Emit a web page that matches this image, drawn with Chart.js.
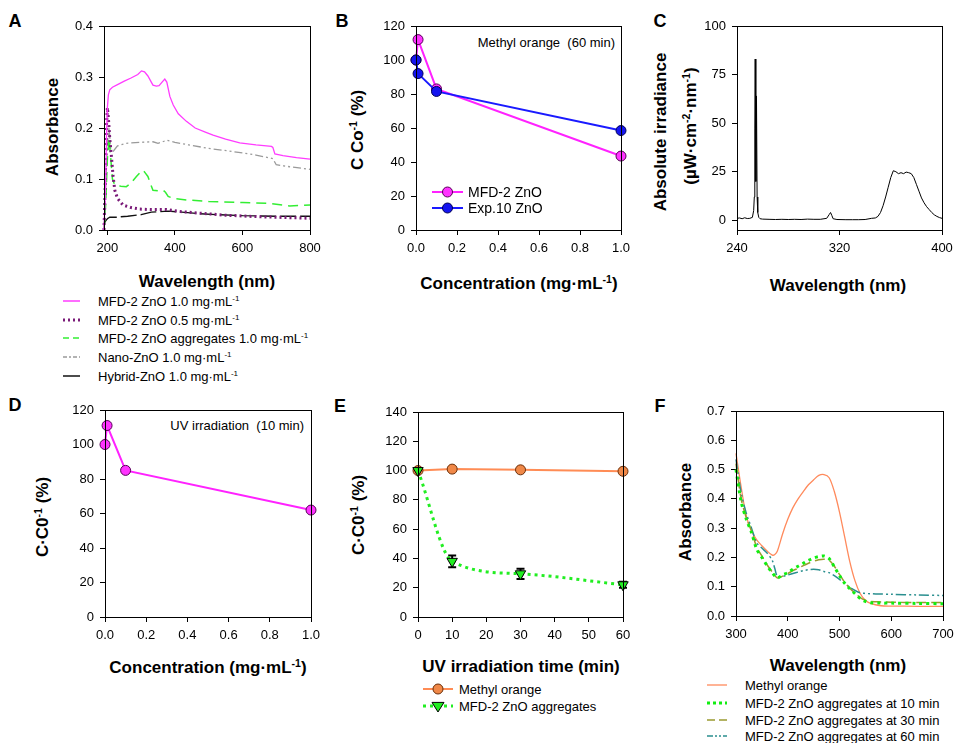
<!DOCTYPE html>
<html>
<head>
<meta charset="utf-8">
<script src="https://cdn.jsdelivr.net/npm/chart.js@4.4.1/dist/chart.umd.min.js"></script>
<style>
html, body { margin: 0; padding: 0; background: #fff; overflow: hidden; }
#fig { position: relative; width: 954px; height: 743px; overflow: hidden; font-family: 'Liberation Sans', Arial, sans-serif; color: #000; }
canvas { position: absolute; }
.t { position: absolute; white-space: nowrap; line-height: 1; }
.lbl { font-weight: bold; font-size: 18px; transform: translate(-50%, -50%); }
.ttl { font-weight: bold; font-size: 17px; transform: translate(-50%, -50%); }
.yt { font-weight: bold; font-size: 17px; transform: translate(-50%, -50%) rotate(-90deg); }
.note { font-size: 13px; transform: translate(-100%, -50%); }
.leg { font-size: 13px; transform: translateY(-50%); }
sup { font-size: 0.62em; vertical-align: 0.55em; line-height: 0; }
</style>
</head>
<body>
<div id="fig">
  <div class="t lbl" style="left:15px;top:21px">A</div>
  <div class="t lbl" style="left:342px;top:21px">B</div>
  <div class="t lbl" style="left:660px;top:21px">C</div>
  <div class="t lbl" style="left:15px;top:405px">D</div>
  <div class="t lbl" style="left:340px;top:406px">E</div>
  <div class="t lbl" style="left:660px;top:406px">F</div>

  <div class="t yt" style="left:52px;top:127px">Absorbance</div>
  <div class="t yt" style="left:357px;top:130px">C Co<sup>-1</sup> (%)</div>
  <div class="t yt" style="left:660px;top:132px">Absolute irradiance</div>
  <div class="t yt" style="left:690px;top:126px">(µW·cm<sup>-2</sup>·nm<sup>-1</sup>)</div>
  <div class="t yt" style="left:42px;top:517px">C·C0<sup>-1</sup> (%)</div>
  <div class="t yt" style="left:358px;top:515px">C·C0<sup>-1</sup> (%)</div>
  <div class="t yt" style="left:685px;top:512px">Absorbance</div>

  <div class="t ttl" style="left:207px;top:281px">Wavelength (nm)</div>
  <div class="t ttl" style="left:519px;top:283px">Concentration (mg·mL<sup>-1</sup>)</div>
  <div class="t ttl" style="left:838px;top:285px">Wavelength (nm)</div>
  <div class="t ttl" style="left:208px;top:667px">Concentration (mg·mL<sup>-1</sup>)</div>
  <div class="t ttl" style="left:521px;top:666px">UV irradiation time (min)</div>
  <div class="t ttl" style="left:838px;top:665px">Wavelength (nm)</div>

  <div class="t note" style="left:615px;top:42px">Methyl orange&nbsp; (60 min)</div>
  <div class="t note" style="left:304px;top:425px">UV irradiation&nbsp; (10 min)</div>
</div>

<script>
// A: absorbance spectra of the ZnO suspensions
const aMfd10Wl  = [190, 195, 198, 200, 203, 207, 215, 230, 250, 270, 290, 301, 310, 320, 330, 335, 345, 353, 362, 370, 376, 385, 395, 410, 434, 460, 490, 513, 550, 592, 640, 686, 690, 696, 720, 760, 800];
const aMfd10Abs = [0.0, 0.1, 0.2, 0.24, 0.265, 0.275, 0.28, 0.285, 0.292, 0.298, 0.305, 0.312, 0.31, 0.302, 0.29, 0.284, 0.282, 0.283, 0.29, 0.296, 0.29, 0.262, 0.245, 0.228, 0.213, 0.2, 0.192, 0.186, 0.178, 0.171, 0.167, 0.164, 0.162, 0.149, 0.146, 0.142, 0.139];
const aMfd05Wl  = [190, 194, 197, 200, 203, 207, 212, 217, 222, 230, 246, 270, 296, 330, 375, 420, 474, 550, 650, 800];
const aMfd05Abs = [0.0, 0.1, 0.2, 0.24, 0.22, 0.18, 0.144, 0.105, 0.078, 0.062, 0.049, 0.044, 0.041, 0.04, 0.04, 0.036, 0.033, 0.029, 0.026, 0.023];
const aAggWl    = [190, 195, 200, 205, 210, 215, 222, 240, 256, 270, 286, 300, 306, 312, 320, 328, 335, 350, 365, 372, 380, 395, 434, 500, 600, 680, 740, 800];
const aAggAbs   = [0.0, 0.05, 0.14, 0.18, 0.14, 0.1, 0.088, 0.086, 0.085, 0.092, 0.105, 0.115, 0.117, 0.112, 0.105, 0.09, 0.078, 0.077, 0.078, 0.074, 0.066, 0.062, 0.059, 0.056, 0.054, 0.052, 0.047, 0.049];
const aNanoWl   = [190, 195, 200, 205, 210, 218, 230, 256, 300, 335, 350, 360, 375, 400, 440, 500, 560, 640, 690, 700, 740, 800];
const aNanoAbs  = [0.0, 0.08, 0.17, 0.2, 0.16, 0.155, 0.165, 0.17, 0.172, 0.173, 0.17, 0.172, 0.176, 0.172, 0.167, 0.16, 0.155, 0.147, 0.14, 0.128, 0.124, 0.119];
const aHybWl    = [190, 195, 200, 207, 230, 240, 260, 300, 330, 380, 420, 470, 530, 600, 700, 800];
const aHybAbs   = [0.012, 0.018, 0.022, 0.025, 0.025, 0.026, 0.027, 0.03, 0.035, 0.037, 0.035, 0.032, 0.03, 0.028, 0.027, 0.027];
const aXTicks = [200, 400, 600, 800];
const aYTicks = [0, 0.1, 0.2, 0.3, 0.4];

// B: methyl orange after 60 min
const bConc   = [0, 0.01, 0.1, 1.0];
const bMfd    = [100, 112, 83, 43.5];
const bExp10  = [100, 92, 81.5, 58.5];
const concTicks = [0, 0.2, 0.4, 0.6, 0.8, 1.0];
const pctTicks120 = [0, 20, 40, 60, 80, 100, 120];

// C: lamp spectrum
const cWl  = [240, 242, 244, 246, 248, 250, 252, 253, 253.5, 253.9, 254.2, 254.7, 255.2, 255.7, 256.2, 257, 258, 260, 265, 270, 275, 280, 285, 290, 295, 300, 305, 310, 312, 313, 314, 315, 318, 325, 330, 335, 340, 345, 348, 350, 352, 354, 356, 358, 360, 362, 364, 366, 368, 370, 372, 374, 376, 378, 380, 382, 384, 386, 388, 390, 392, 394, 396, 398, 400];
const cIrr = [1.0, 1.2, 0.8, 1.3, 0.9, 1.0, 1.5, 5, 12, 47, 83, 20, 64, 12, 4, 1.5, 0.8, 0.6, 0.5, 0.4, 0.5, 0.4, 0.5, 0.4, 0.6, 0.5, 0.5, 1.0, 3, 4, 2.5, 0.8, 0.4, 0.3, 0.3, 0.3, 0.4, 1.0, 1.2, 2, 4, 7.5, 12, 17, 22, 25.5, 25, 24, 24.5, 24, 24.8, 24.5, 24, 22, 18.5, 15, 11.5, 9, 7, 5.5, 4, 2.8, 2, 1.4, 1.0];
const cXTicks = [240, 320, 400];
const cYTicks = [0, 25, 50, 75, 100];

// D: UV irradiation 10 min
const dConc = [0, 0.01, 0.1, 1.0];
const dMfd  = [100, 111, 85, 62];

// E: degradation vs time
const eTime   = [0, 10, 30, 60];
const eMo     = [100, 101, 100.5, 99.5];
const eAgg    = [100, 38, 29.5, 22];
const eAggErr = [0, 4, 3.5, 2];
const eXTicks = [0, 10, 20, 30, 40, 50, 60];
const eYTicks = [0, 20, 40, 60, 80, 100, 120, 140];

// F: methyl orange spectra
const fWl    = [300, 310, 320, 330, 340, 350, 360, 370, 375, 380, 390, 400, 410, 420, 430, 440, 450, 460, 470, 480, 490, 500, 510, 520, 530, 540, 550, 560, 580, 600, 650, 700];
const fMo    = [0.555, 0.44, 0.34, 0.29, 0.26, 0.24, 0.222, 0.208, 0.21, 0.222, 0.28, 0.33, 0.37, 0.4, 0.425, 0.448, 0.465, 0.48, 0.483, 0.472, 0.425, 0.355, 0.27, 0.185, 0.12, 0.077, 0.054, 0.043, 0.035, 0.034, 0.033, 0.033];
const fAgg10 = [0.5, 0.39, 0.33, 0.285, 0.228, 0.2, 0.172, 0.148, 0.137, 0.13, 0.14, 0.148, 0.16, 0.17, 0.18, 0.19, 0.198, 0.203, 0.205, 0.196, 0.168, 0.138, 0.112, 0.093, 0.076, 0.06, 0.05, 0.045, 0.044, 0.044, 0.043, 0.042];
const fAgg30 = [0.52, 0.4, 0.335, 0.29, 0.235, 0.205, 0.175, 0.15, 0.138, 0.13, 0.136, 0.145, 0.155, 0.163, 0.172, 0.18, 0.187, 0.192, 0.194, 0.19, 0.17, 0.142, 0.115, 0.095, 0.078, 0.063, 0.054, 0.05, 0.048, 0.047, 0.046, 0.046];
const fAgg60 = [0.535, 0.42, 0.35, 0.3, 0.25, 0.232, 0.215, 0.19, 0.162, 0.135, 0.135, 0.14, 0.145, 0.15, 0.155, 0.158, 0.16, 0.158, 0.152, 0.148, 0.138, 0.125, 0.112, 0.098, 0.087, 0.079, 0.077, 0.076, 0.075, 0.074, 0.072, 0.07];
const fXTicks = [300, 400, 500, 600, 700];
const fYTicks = [0, 0.1, 0.2, 0.3, 0.4, 0.5, 0.6, 0.7];

const PAD_TOP = 16, PAD_RIGHT = 20, Y_AXIS_W = 60, X_AXIS_H = 30;

const fig = document.getElementById('fig');
Chart.defaults.font.family = "'Liberation Sans', Arial, sans-serif";
Chart.defaults.color = '#000';
Chart.defaults.animation = false;

const pts = (xs, ys) => xs.map((x, i) => ({x: x, y: ys[i]}));
const fix1 = v => v.toFixed(1);
const plain = v => String(v);

const framePlugin = {
    id: 'frame',
    afterDraw(chart) {
        const a = chart.chartArea, c = chart.ctx;
        c.save();
        c.strokeStyle = '#000';
        c.lineWidth = 1;
        c.strokeRect(Math.round(a.left) + 0.5, Math.round(a.top) + 0.5, Math.round(a.right - a.left), Math.round(a.bottom - a.top));
        c.restore();
    }
};

const errBarPlugin = {
    id: 'errbars',
    beforeDatasetsDraw(chart, args, opts) {
        if (!opts.err) return;
        const c = chart.ctx, xs = chart.scales.x, ys = chart.scales.y;
        const data = chart.data.datasets[opts.dataset].data;
        c.save();
        c.strokeStyle = '#000';
        c.lineWidth = 2;
        data.forEach((p, i) => {
            const e = opts.err[i];
            if (!e) return;
            const px = xs.getPixelForValue(p.x);
            const y1 = ys.getPixelForValue(p.y + e), y2 = ys.getPixelForValue(p.y - e);
            c.beginPath();
            c.moveTo(px, y1); c.lineTo(px, y2);
            c.moveTo(px - 4, y1); c.lineTo(px + 4, y1);
            c.moveTo(px - 4, y2); c.lineTo(px + 4, y2);
            c.stroke();
        });
        c.restore();
    }
};

function axis(min, max, tickVals, fmt, isY) {
    return {
        type: 'linear',
        min: min,
        max: max,
        afterBuildTicks: s => { s.ticks = tickVals.map(v => ({value: v})); },
        afterFit: s => { if (isY) s.width = Y_AXIS_W; else s.height = X_AXIS_H; },
        ticks: {font: {size: 13}, color: '#000', padding: 6, maxRotation: 0, autoSkip: false, callback: fmt},
        grid: {drawOnChartArea: false, drawTicks: true, tickLength: 5, color: '#000', lineWidth: 1},
        border: {display: true, color: '#000', width: 1}
    };
}

function makeChart(box, datasets, xAxis, yAxis, errOpts) {
    const cv = document.createElement('canvas');
    const w = box[2] - box[0] + Y_AXIS_W + PAD_RIGHT, h = box[3] - box[1] + PAD_TOP + X_AXIS_H;
    cv.width = w; cv.height = h;
    cv.style.left = (box[0] - Y_AXIS_W) + 'px';
    cv.style.top = (box[1] - PAD_TOP) + 'px';
    cv.style.width = w + 'px';
    cv.style.height = h + 'px';
    fig.appendChild(cv);
    return new Chart(cv, {
        type: 'line',
        data: {datasets: datasets},
        options: {
            responsive: false,
            devicePixelRatio: 1,
            layout: {padding: {top: PAD_TOP, right: PAD_RIGHT, left: 0, bottom: 0}},
            elements: {point: {radius: 0}, line: {tension: 0}},
            scales: {x: xAxis, y: yAxis},
            plugins: {legend: {display: false}, tooltip: {enabled: false}, errbars: errOpts || {}}
        },
        plugins: [framePlugin, errBarPlugin]
    });
}

function spec(data, color, width, dash, tension) {
    return {data: data, borderColor: color, borderWidth: width, borderDash: dash, pointRadius: 0, fill: false, tension: tension || 0, clip: false};
}

function marked(data, color, fill, edge, style, radius, extra) {
    return Object.assign({
        data: data, borderColor: color, borderWidth: 2, pointRadius: radius, pointStyle: style,
        pointBackgroundColor: fill, pointBorderColor: edge, pointBorderWidth: 1, fill: false, clip: false
    }, extra || {});
}

// A
makeChart([104, 26, 310, 230], [
    spec(pts(aMfd10Wl, aMfd10Abs), '#FF3CFF', 1.3, []),
    spec(pts(aMfd05Wl, aMfd05Abs), '#7A1A78', 3, [2, 3]),
    spec(pts(aAggWl, aAggAbs), '#33EE33', 1.5, [10, 6]),
    spec(pts(aNanoWl, aNanoAbs), '#9A9A9A', 1.3, [8, 3, 2, 3, 2, 3]),
    spec(pts(aHybWl, aHybAbs), '#111111', 1.3, [16, 4])
], axis(190, 800, aXTicks, plain, false), axis(0, 0.4, aYTicks, fix1, true));

// B
makeChart([416, 26, 621, 230], [
    marked(pts(bConc, bExp10), '#1A1AFF', '#1414F0', '#000055', 'circle', 5),
    marked(pts(bConc, bMfd), '#FF22FF', '#FF33FF', '#550055', 'circle', 5)
], axis(0, 1, concTicks, fix1, false), axis(0, 120, pctTicks120, plain, true));

// C
makeChart([737, 26, 942, 230], [
    spec(pts(cWl, cIrr), '#000000', 1, [])
], axis(240, 400, cXTicks, plain, false), axis(-5, 100, cYTicks, plain, true));

// D
makeChart([105, 410, 311, 617], [
    marked(pts(dConc, dMfd), '#FF22FF', '#FF33FF', '#550055', 'circle', 5)
], axis(0, 1, concTicks, fix1, false), axis(0, 120, pctTicks120, plain, true));

// E
makeChart([418, 412, 623, 617], [
    marked(pts(eTime, eAgg), '#22EE22', '#22EE22', '#000000', 'triangle', 6,
        {borderDash: [3, 4], borderWidth: 3, pointRotation: 180, cubicInterpolationMode: 'monotone'}),
    marked(pts(eTime, eMo), '#FF8C55', '#F08848', '#6A2E08', 'circle', 5)
], axis(0, 60, eXTicks, plain, false), axis(0, 140, eYTicks, plain, true), {dataset: 0, err: eAggErr});

// F
makeChart([736, 411, 943, 616], [
    spec(pts(fWl, fAgg10), '#11EE11', 3, [3, 4], 0.3),
    spec(pts(fWl, fAgg30), '#9A9A30', 1.5, [10, 5], 0.3),
    spec(pts(fWl, fAgg60), '#2A8F8F', 1.5, [10, 3, 2, 3, 2, 3], 0.3),
    spec(pts(fWl, fMo), '#FF8A5C', 1.3, [], 0.3)
], axis(300, 700, fXTicks, plain, false), axis(0, 0.7, fYTicks, fix1, true));

// legends
function legendRow(x0, x1, y, color, width, dash, marker, textX, html) {
    const svgNS = 'http://www.w3.org/2000/svg';
    const svg = document.createElementNS(svgNS, 'svg');
    const w = x1 - x0 + 16;
    svg.setAttribute('width', w);
    svg.setAttribute('height', 16);
    svg.style.position = 'absolute';
    svg.style.left = (x0 - 8) + 'px';
    svg.style.top = (y - 8) + 'px';
    const ln = document.createElementNS(svgNS, 'line');
    ln.setAttribute('x1', 8); ln.setAttribute('x2', 8 + x1 - x0);
    ln.setAttribute('y1', 8); ln.setAttribute('y2', 8);
    ln.setAttribute('stroke', color);
    ln.setAttribute('stroke-width', width);
    if (dash.length) ln.setAttribute('stroke-dasharray', dash.join(' '));
    svg.appendChild(ln);
    if (marker) {
        const cx = w / 2;
        let m;
        if (marker.shape === 'circle') {
            m = document.createElementNS(svgNS, 'circle');
            m.setAttribute('cx', cx); m.setAttribute('cy', 8); m.setAttribute('r', marker.r);
        } else {
            m = document.createElementNS(svgNS, 'polygon');
            const r = marker.r;
            m.setAttribute('points', (cx - r) + ',' + (8 - r * 0.6) + ' ' + (cx + r) + ',' + (8 - r * 0.6) + ' ' + cx + ',' + (8 + r));
        }
        m.setAttribute('fill', marker.fill);
        m.setAttribute('stroke', marker.edge);
        m.setAttribute('stroke-width', 1);
        svg.appendChild(m);
    }
    fig.appendChild(svg);
    const d = document.createElement('div');
    d.className = 't leg';
    d.style.left = textX + 'px';
    d.style.top = y + 'px';
    d.innerHTML = html;
    fig.appendChild(d);
}

const mgml = 'mg·mL<sup>-1</sup>';
legendRow(63, 80, 301, '#FF3CFF', 1.5, [], null, 98, 'MFD-2 ZnO 1.0 ' + mgml);
legendRow(63, 80, 320, '#7A1A78', 3, [2, 3], null, 98, 'MFD-2 ZnO 0.5 ' + mgml);
legendRow(63, 80, 338, '#33EE33', 1.5, [6, 4], null, 98, 'MFD-2 ZnO aggregates 1.0 ' + mgml);
legendRow(63, 80, 357, '#9A9A9A', 1.3, [4, 2, 2, 2], null, 98, 'Nano-ZnO 1.0 ' + mgml);
legendRow(63, 80, 376, '#111111', 1.5, [], null, 98, 'Hybrid-ZnO 1.0 ' + mgml);

legendRow(432, 463, 192, '#FF22FF', 2, [], {shape: 'circle', r: 5, fill: '#FF33FF', edge: '#550055'}, 468, '<span style="font-size:14px">MFD-2 ZnO</span>');
legendRow(432, 463, 208, '#1A1AFF', 2, [], {shape: 'circle', r: 5, fill: '#1414F0', edge: '#000055'}, 468, '<span style="font-size:14px">Exp.10 ZnO</span>');

legendRow(423, 453, 689, '#FF8C55', 2, [], {shape: 'circle', r: 5, fill: '#F08848', edge: '#6A2E08'}, 459, 'Methyl orange');
legendRow(423, 453, 706, '#22EE22', 3, [3, 4], {shape: 'tri', r: 6, fill: '#22EE22', edge: '#000'}, 459, 'MFD-2 ZnO aggregates');

legendRow(707, 727, 685, '#FF8A5C', 1.3, [], null, 745, 'Methyl orange');
legendRow(707, 727, 703, '#11EE11', 3, [3, 3], null, 745, 'MFD-2 ZnO aggregates at 10 min');
legendRow(707, 727, 720, '#9A9A30', 1.5, [8, 4], null, 745, 'MFD-2 ZnO aggregates at 30 min');
legendRow(707, 727, 736, '#2A8F8F', 1.5, [6, 2, 2, 2, 2, 2], null, 745, 'MFD-2 ZnO aggregates at 60 min');
</script>
</body>
</html>
